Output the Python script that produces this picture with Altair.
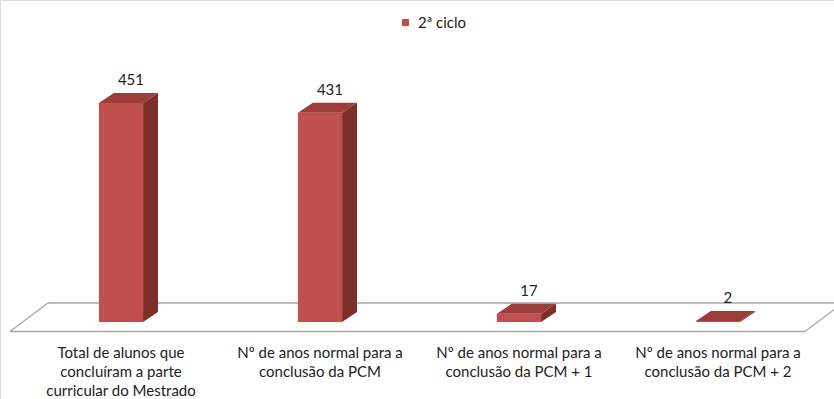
import altair as alt
import pandas as pd

# Data
categories = [
    "Total de alunos que\nconcluíram a parte\ncurricular do Mestrado",
    "Nº de anos normal para a\nconclusão da PCM",
    "Nº de anos normal para a\nconclusão da PCM + 1",
    "Nº de anos normal para a\nconclusão da PCM + 2",
]
values = [451, 431, 17, 2]
series_name = "2ª ciclo"

# Layout of the pseudo-3D scene (in scale units)
HALF_W = 0.111      # half width of a bar front face (category units)
DEPTH_X = 0.075     # horizontal depth shift of the bar
DEPTH_Y = 20.6      # vertical depth shift of the bar (value units)
FLOOR_FRONT = -19.6
FLOOR_BACK = 39.1
FLOOR_LEFT = -0.558
FLOOR_RIGHT = 3.437
FLOOR_SHIFT = 0.191

FONT = "Lato"
FRONT = "#C0504D"
TOP = "#9C3D3A"
SIDE = "#7D2F2C"

x_scale = alt.Scale(domain=[-0.608, 3.583], nice=False, zero=False)
y_scale = alt.Scale(domain=[-158.6, 663.1], nice=False, zero=False)

idx = list(range(len(values)))
df = pd.DataFrame({"i": idx, "cat": categories, "v": values, "serie": series_name})
df["x0"] = df["i"] - HALF_W
df["x1"] = df["i"] + HALF_W
df["base"] = 0
df["lx"] = df["i"] + 0.05
df["ly"] = df["v"] + DEPTH_Y
df["label"] = df["cat"].str.split("\n")

# top faces: horizontal areas between the front and back edge
top_rows, side_rows = [], []
for i, v in zip(idx, values):
    top_rows.append({"i": i, "y": v, "xa": i - HALF_W, "xb": i + HALF_W})
    top_rows.append({"i": i, "y": v + DEPTH_Y, "xa": i - HALF_W + DEPTH_X, "xb": i + HALF_W + DEPTH_X})
    side_rows.append({"i": i, "x": i + HALF_W, "ya": 0, "yb": v})
    side_rows.append({"i": i, "x": i + HALF_W + DEPTH_X, "ya": DEPTH_Y, "yb": v + DEPTH_Y})
top_df = pd.DataFrame(top_rows)
side_df = pd.DataFrame(side_rows)

floor_df = pd.DataFrame([
    {"xa": FLOOR_LEFT, "ya": FLOOR_FRONT, "xb": FLOOR_RIGHT, "yb": FLOOR_FRONT},
    {"xa": FLOOR_LEFT + FLOOR_SHIFT, "ya": FLOOR_BACK, "xb": FLOOR_RIGHT + FLOOR_SHIFT, "yb": FLOOR_BACK},
    {"xa": FLOOR_LEFT, "ya": FLOOR_FRONT, "xb": FLOOR_LEFT + FLOOR_SHIFT, "yb": FLOOR_BACK},
    {"xa": FLOOR_RIGHT, "ya": FLOOR_FRONT, "xb": FLOOR_RIGHT + FLOOR_SHIFT, "yb": FLOOR_BACK},
])

X = lambda f: alt.X(f, type="quantitative", scale=x_scale, axis=None)
Y = lambda f: alt.Y(f, type="quantitative", scale=y_scale, axis=None)

floor = alt.Chart(floor_df).mark_rule(color="#A6A6A6", strokeWidth=1.3).encode(
    x=X("xa"), y=Y("ya"), x2="xb", y2="yb"
)

front = alt.Chart(df).mark_rect().encode(
    x=X("x0"), x2="x1", y=Y("v"), y2="base",
    color=alt.Color("serie:N", scale=alt.Scale(range=[FRONT]),
                    legend=alt.Legend(title=None, orient="none", legendX=398, legendY=15,
                                      symbolType="square", symbolSize=50, symbolStrokeWidth=0,
                                      labelFont=FONT, labelFontSize=15, labelColor="#222",
                                      labelOffset=5, padding=0)),
)

side = alt.Chart(side_df).mark_area(orient="vertical", color=SIDE).encode(
    x=X("x"), y=Y("ya"), y2="yb", detail="i:N"
)

top = alt.Chart(top_df).mark_area(orient="horizontal", color=TOP).encode(
    y=Y("y"), x=X("xa"), x2="xb", detail="i:N"
)

value_labels = alt.Chart(df).mark_text(font=FONT, fontSize=15, color="#222", dy=-13, baseline="middle").encode(
    x=X("lx"), y=Y("ly"), text="v:Q"
)

cat_labels = alt.Chart(df).mark_text(font=FONT, fontSize=15, color="#222", baseline="top", lineHeight=19,
                                     align="center").encode(
    x=X("i"), y=alt.value(346), text="label"
)

chart = alt.layer(floor, side, front, top, value_labels, cat_labels).properties(
    width=834, height=399, padding=0, autosize=alt.AutoSizeParams(type="none")
).configure_view(stroke=None).configure(background="white")

chart.save("out.html", embed_options={"renderer": "svg", "actions": False})
